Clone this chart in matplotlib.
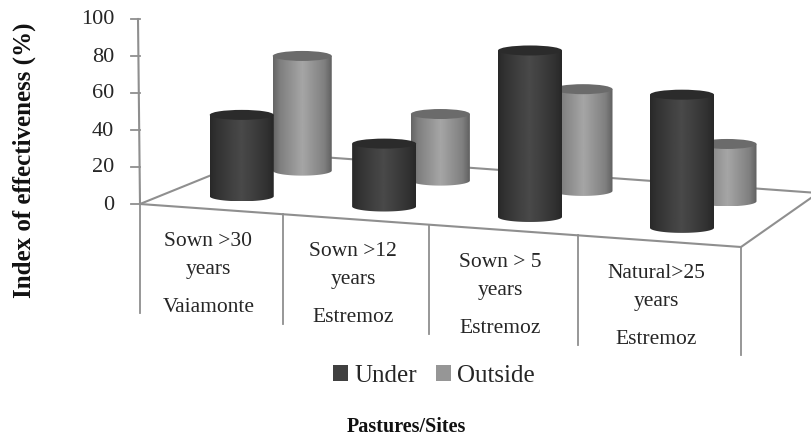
import numpy as np
import matplotlib
matplotlib.use('Agg')
import matplotlib.pyplot as plt
from matplotlib.patches import Ellipse, PathPatch, Patch
from matplotlib.path import Path

# chart values
pastures = ['Sown >30\nyears', 'Sown >12\nyears', 'Sown > 5\nyears', 'Natural>25\nyears']
sites = ['Vaiamonte', 'Estremoz', 'Estremoz', 'Estremoz']
under = [44, 34, 90, 72]
outside = [62, 36, 55, 31]
yticks = [0, 20, 40, 60, 80, 100]

# projection of the 3D floor, in image pixels
FRONT_X = [140, 283, 429, 578, 741]
BACK_X = [266, 399, 538, 681, 818]
FRONT_Y = [204, 247]
BACK_Y = [153, 193]
ZERO_Y = 204
PX_PER_UNIT = 1.85


def floor_xy(pos, depth):
    """pos in category units (0..4), depth 0 front .. 1 back"""
    idx = np.arange(len(FRONT_X))
    xf = np.interp(pos, idx, FRONT_X)
    xb = np.interp(pos, idx, BACK_X)
    yf = np.interp(xf, [FRONT_X[0], FRONT_X[-1]], FRONT_Y)
    yb = np.interp(xb, [BACK_X[0], BACK_X[-1]], BACK_Y)
    return xf + (xb - xf) * depth, yf + (yb - yf) * depth


def cylinder(ax, pos, depth, value, width, shades, top_color, zorder):
    x, y0 = floor_xy(pos, depth)
    y1 = y0 - value * PX_PER_UNIT
    ry = 5.0
    left, right = x - width / 2, x + width / 2

    # body = rectangle plus lower half ellipse
    t = np.linspace(np.pi, 0, 40)
    verts = [(left, y1)] + [(x + width / 2 * np.cos(a), y0 + ry * np.sin(a)) for a in t] + [(right, y1), (left, y1)]
    clip = PathPatch(Path(verts), transform=ax.transData, fc='none', ec='none')
    ax.add_patch(clip)
    grad = np.interp(np.linspace(0, 1, 64), [0, 0.12, 0.5, 0.88, 1], shades)[None, :]
    im = ax.imshow(grad, extent=[left, right, y0 + ry, y1], cmap='gray', vmin=0, vmax=1,
                   aspect='auto', interpolation='bilinear', zorder=zorder)
    im.set_clip_path(clip)
    ax.add_patch(Ellipse((x, y1), width, 2 * ry, fc=top_color, ec='none', zorder=zorder + 0.1))


fig = plt.figure(figsize=(8.11, 4.37), dpi=100)
ax = fig.add_axes([0, 0, 1, 1])
ax.axis('off')
plt.rcParams['font.family'] = ['Liberation Serif']

gray = '#8f8f8f'
text_color = '#262626'
n = len(pastures)

# floor outline
for a, b in [((0, 0), (0, 1)), ((0, 1), (n, 1)), ((n, 1), (n, 0)), ((0, 0), (n, 0))]:
    p0, p1 = floor_xy(*a), floor_xy(*b)
    ax.plot([p0[0], p1[0]], [p0[1], p1[1]], color=gray, lw=1.5, zorder=1)

# value axis
ax.plot([138, 140], [ZERO_Y - 100 * PX_PER_UNIT, ZERO_Y], color=gray, lw=1.5, zorder=1)
for v in yticks:
    y = ZERO_Y - v * PX_PER_UNIT
    ax.plot([131, 140], [y, y], color=gray, lw=1.3, zorder=1)
    ax.text(114, y + 1, str(v), ha='right', va='center', fontsize=16, color=text_color)

# category dividers, each one drops a bit further
for i in range(n + 1):
    x, y = floor_xy(i, 0)
    ax.plot([x, x], [y, 313 + 10.5 * i], color=gray, lw=1.3, zorder=1)

# labels
for i in range(n):
    x, y = floor_xy(i + 0.5, 0)
    first, second = pastures[i].split('\n')
    ax.text(x - 3, y + 32, first, ha='center', va='center', fontsize=15.5, color=text_color)
    ax.text(x - 3, y + 60, second, ha='center', va='center', fontsize=15.5, color=text_color)
    ax.text(x - 3, y + 98, sites[i], ha='center', va='center', fontsize=15.5, color=text_color)

# bars, back row first
for i, v in enumerate(outside):
    cylinder(ax, i + 0.5, 0.75, v, 59, [0.40, 0.50, 0.65, 0.50, 0.38], '#6b6b6b', 3)
for i, v in enumerate(under):
    cylinder(ax, i + 0.5, 0.25, v, 64, [0.16, 0.20, 0.29, 0.20, 0.16], '#2b2b2b', 4)

handles = [Patch(fc='#404040', label='Under'), Patch(fc='#969696', label='Outside')]
ax.legend(handles=handles, ncol=2, loc='center', bbox_to_anchor=(434 / 811, 1 - 376 / 437), frameon=False,
          fontsize=18, handlelength=0.6, handleheight=0.6, handletextpad=0.25, columnspacing=0.75,
          labelcolor=text_color)

ax.text(24, 160, 'Index of effectiveness (%)', rotation=90, ha='center', va='center',
        fontsize=18, fontweight='bold', color='#111111')
ax.text(406, 427, 'Pastures/Sites', ha='center', va='center', fontsize=14.5, fontweight='bold', color='#111111')

ax.set_xlim(0, 811)
ax.set_ylim(437, 0)
fig.savefig('out.png', dpi=100)
